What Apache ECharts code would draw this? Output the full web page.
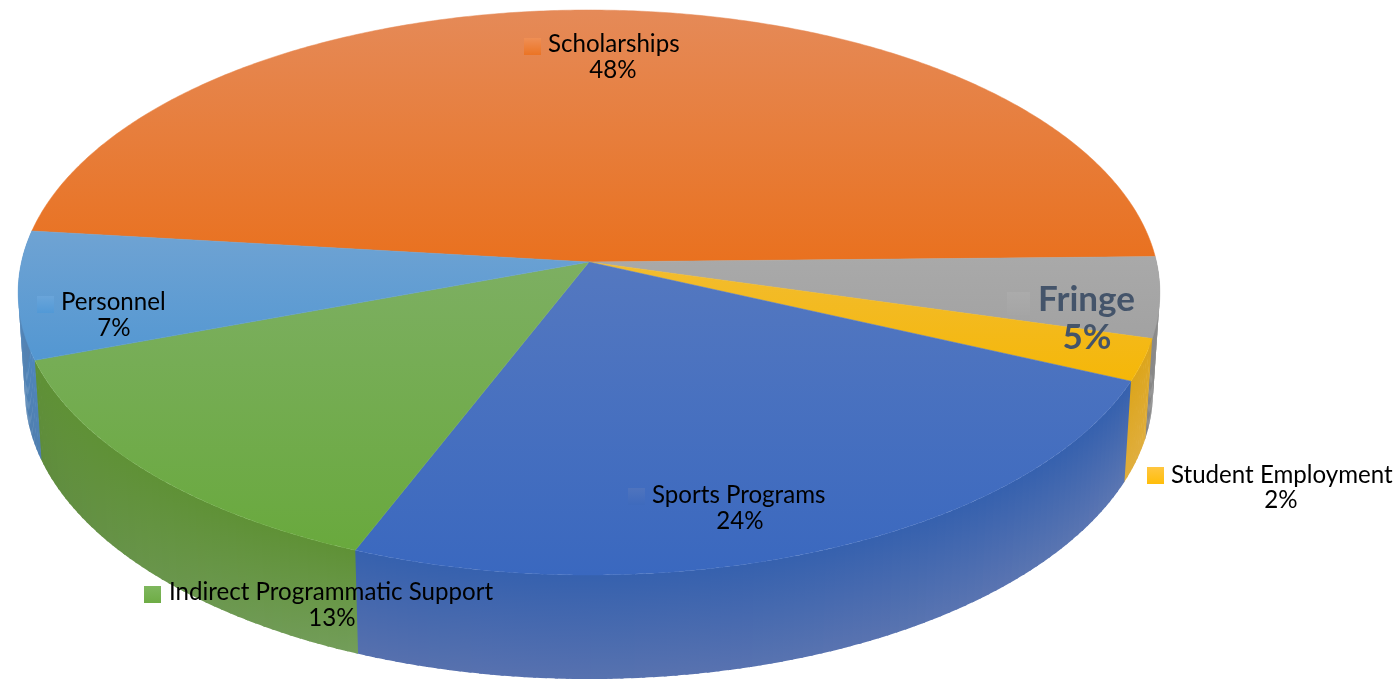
<!DOCTYPE html>
<html>
<head>
<meta charset="utf-8">
<script src="https://cdn.jsdelivr.net/npm/echarts@6/dist/echarts.min.js"></script>
<style>html,body{margin:0;padding:0;background:#fff}#c{width:1400px;height:681px}</style>
</head>
<body>
<div id="c"></div>
<script>
// DATA
const categories = ['Scholarships', 'Fringe', 'Student Employment', 'Sports Programs', 'Indirect Programmatic Support', 'Personnel'];
const shares = [47.9, 4.6, 2.4, 24.35, 13.45, 7.3];

// STYLE
const faceTop = ['#E58A58', '#A9A9A9', '#F2BC30', '#5478C0', '#7DAF62', '#6FA3D3'];
const faceBottom = ['#E9711F', '#A2A2A2', '#F5B708', '#3A68BF', '#69A93D', '#5397D2'];
const wallTop = ['#C55A11', '#8A8A8A', '#DCA51C', '#3661AE', '#5F9136', '#4F86BC'];
const wallBottomStart = ['#C55A11', '#858585', '#E0AE3E', '#5B76B2', '#739E5A', '#4F7FB0'];
const wallBottomEnd = ['#C55A11', '#858585', '#E0AE3E', '#5670AE', '#5E8B3C', '#5582B0'];
const keyTop = ['#EF8F55', '#ABABAB', '#FFC640', '#4F74BE', '#7FB75E', '#6AA5DA'];
const keyBottom = ['#EB7424', '#A5A5A5', '#FFBE0A', '#3E6ABD', '#6EAC45', '#5299D6'];
const labelFont = [24.1, 35, 24.1, 24.1, 24.1, 24.1];
const labelWeight = ['400', '700', '400', '400', '400', '400'];
const labelColor = ['#000', '#44546A', '#000', '#000', '#000', '#000'];
// [key left, key top, key size, name left, name middle, percent centre x, percent middle]
const labelLayout = [
  [524, 38, 17, 548, 44, 613, 70],
  [1007, 292, 23, 1038, 300, 1087, 338],
  [1147, 467, 17, 1171, 475, 1281, 500],
  [628, 488, 17, 652, 495, 740, 521],
  [144, 586, 17, 169, 592, 332, 618],
  [37, 296, 17, 61, 302, 114, 328]
];

// PIE PROJECTION
const apex = [589, 262], rx = 567.5, ry = 279.2, persp = 0.108;
const startDeg = 186.45;
const wallShrink = 0.988, wallDrop = 98, wallExtra = 6, stripDeg = 1;
const rad = d => d * Math.PI / 180;
function rim(deg) {
  const s = Math.sin(rad(deg)), c = Math.cos(rad(deg)), w = 1 - persp * s;
  return [apex[0] + rx * c / w, apex[1] + ry * s / w];
}
function floor(deg) {
  const p = rim(deg), s = Math.sin(rad(deg));
  return [apex[0] + (p[0] - apex[0]) * wallShrink, p[1] + wallDrop + wallExtra * s];
}
const total = shares.reduce((a, b) => a + b, 0);
function span(i) {
  let before = 0;
  for (let k = 0; k < i; k++) before += shares[k];
  return [startDeg + before / total * 360, startDeg + (before + shares[i]) / total * 360];
}
function arc(fn, a, b, n) {
  const pts = [];
  for (let j = 0; j <= n; j++) pts.push(fn(a + (b - a) * j / n));
  return pts;
}
function mix(h1, h2, t) {
  const p = h => [1, 3, 5].map(o => parseInt(h.substr(o, 2), 16));
  const A = p(h1), B = p(h2);
  return 'rgb(' + A.map((v, k) => Math.round(v + (B[k] - v) * t)).join(',') + ')';
}
const LG = echarts.graphic.LinearGradient;

function renderFace(params) {
  const i = params.dataIndex, [a, b] = span(i);
  const pts = [apex].concat(arc(rim, a, b, Math.ceil((b - a) * 2)));
  const ys = pts.map(p => p[1]);
  const fill = new LG(0, Math.min(...ys), 0, Math.max(...ys), [
    { offset: 0, color: faceTop[i] }, { offset: 1, color: faceBottom[i] }
  ], true);
  return {
    type: 'polygon', silent: true,
    shape: { points: pts },
    style: { fill, stroke: fill, lineWidth: 0.5 }
  };
}
function renderWall(params) {
  const i = params.dataIndex, [a, b] = span(i);
  if (Math.sin(rad((a + b) / 2)) < 0) return { type: 'group', children: [] };
  const children = [];
  const n = Math.max(1, Math.ceil((b - a) / stripDeg));
  for (let j = 0; j < n; j++) {
    const s = a + (b - a) * j / n, e = a + (b - a) * (j + 1) / n + 0.3;
    const top = arc(rim, s, e, 2), bot = arc(floor, s, e, 2).reverse();
    const m = (s + e) / 2;
    children.push({
      type: 'polygon', silent: true,
      shape: { points: top.concat(bot) },
      style: {
        fill: new LG(0, rim(m)[1], 0, floor(m)[1], [
          { offset: 0, color: wallTop[i] },
          { offset: 1, color: mix(wallBottomStart[i], wallBottomEnd[i], (j + 0.5) / n) }
        ], true)
      }
    });
  }
  return { type: 'group', children };
}
function renderLabel(params) {
  const i = params.dataIndex, L = labelLayout[i];
  const font = labelWeight[i] + ' ' + labelFont[i] + 'px Lato';
  const txt = (text, x, y, align) => ({
    type: 'text', silent: true,
    style: { text, x, y, font, fill: labelColor[i], textAlign: align, textVerticalAlign: 'middle', align, verticalAlign: 'middle' }
  });
  return {
    type: 'group',
    children: [
      {
        type: 'rect', silent: true,
        shape: { x: L[0], y: L[1], width: L[2], height: L[2] },
        style: { fill: new LG(0, 0, 0, 1, [{ offset: 0, color: keyTop[i] }, { offset: 1, color: keyBottom[i] }]) }
      },
      txt(categories[i], L[3], L[4], 'left'),
      txt(Math.round(shares[i]) + '%', L[5], L[6], 'center')
    ]
  };
}
const seriesData = shares.map((v, i) => ({ name: categories[i], value: v }));
const chart = echarts.init(document.getElementById('c'), null, { renderer: 'canvas' });
chart.setOption({
  animation: false,
  backgroundColor: '#fff',
  series: [
    { type: 'custom', coordinateSystem: 'none', z: 1, data: seriesData, renderItem: renderWall },
    { type: 'custom', coordinateSystem: 'none', z: 2, data: seriesData, renderItem: renderFace },
    { type: 'custom', coordinateSystem: 'none', z: 3, data: seriesData, renderItem: renderLabel }
  ]
});
</script>
</body>
</html>
